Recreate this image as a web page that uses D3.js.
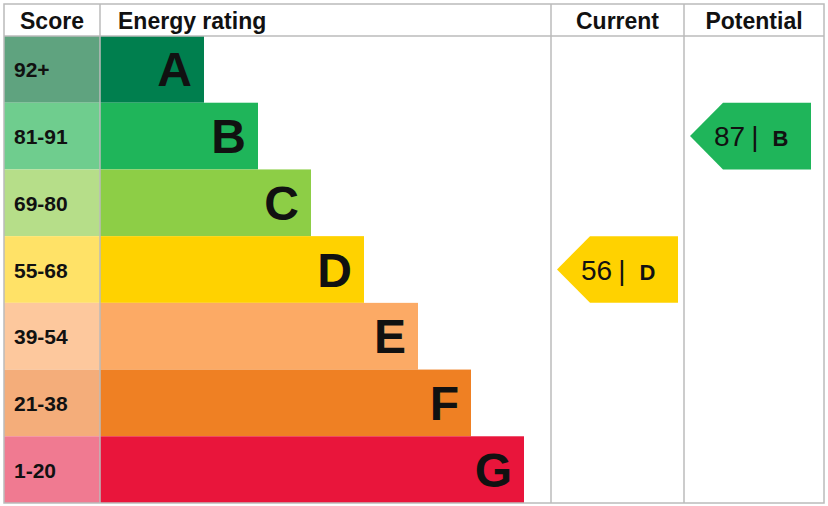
<!DOCTYPE html>
<html><head><meta charset="utf-8">
<script src="https://cdn.jsdelivr.net/npm/d3@7"></script>
<style>body{margin:0;background:#fff}text{font-family:"Liberation Sans",Arial,sans-serif}</style>
</head><body><svg id="c" width="828" height="506"></svg>
<script>
// rating bands
const bands = ["A", "B", "C", "D", "E", "F", "G"];
const scores = ["92+", "81-91", "69-80", "55-68", "39-54", "21-38", "1-20"];
const barEnds = [204, 258, 311, 364, 418, 471, 524];
const barColors = ["#007f4e", "#1fb55a", "#8dce46", "#ffd200", "#fcaa65", "#ef8023", "#e9153b"];
const scoreColors = ["#5fa37f", "#6fcd8e", "#b6de89", "#ffe267", "#fdc89d", "#f4ad7a", "#f07a91"];
const ratings = [{col: "Current", score: 56, band: "D"}, {col: "Potential", score: 87, band: "B"}];

const svg = d3.select("#c");
const L = 4, R = 824, T = 4, B = 503, headB = 36;
const scoreX = 100, curX = 551, potX = 684;

const y = d3.scaleBand().domain(bands).range([headB, B]);

// score cells
svg.selectAll("rect.score").data(bands).join("rect")
  .attr("x", L).attr("y", d => y(d)).attr("width", scoreX - L).attr("height", y.bandwidth())
  .attr("fill", (d, i) => scoreColors[i]);
svg.selectAll("text.score").data(bands).join("text")
  .attr("x", 14).attr("y", d => y(d) + y.bandwidth() / 2 + 8)
  .attr("font-size", 21).attr("font-weight", "bold").attr("fill", "#111")
  .text((d, i) => scores[i]);

// bars
svg.selectAll("rect.bar").data(bands).join("rect")
  .attr("x", scoreX).attr("y", d => y(d)).attr("width", (d, i) => barEnds[i] - scoreX).attr("height", y.bandwidth())
  .attr("fill", (d, i) => barColors[i]);
svg.selectAll("text.bar").data(bands).join("text")
  .attr("x", (d, i) => barEnds[i] - 12).attr("y", d => y(d) + y.bandwidth() / 2 + 17)
  .attr("text-anchor", "end").attr("font-size", 48).attr("font-weight", "bold").attr("fill", "#111")
  .text(d => d);

// grid
const g = svg.append("g").attr("stroke", "#bbb").attr("stroke-width", 1.5).attr("fill", "none");
g.append("rect").attr("x", L).attr("y", T).attr("width", R - L).attr("height", B - T);
g.append("line").attr("x1", L).attr("x2", R).attr("y1", headB).attr("y2", headB);
[scoreX, curX, potX].forEach(x => g.append("line").attr("x1", x).attr("x2", x).attr("y1", T).attr("y2", B));

// headers
const heads = [["Score", (L + scoreX) / 2, "middle"], ["Energy rating", 118, "start"], ["Current", (curX + potX) / 2, "middle"], ["Potential", (potX + R) / 2, "middle"]];
svg.selectAll("text.head").data(heads).join("text")
  .attr("x", d => d[1]).attr("y", 29).attr("text-anchor", d => d[2])
  .attr("font-size", 23).attr("font-weight", "bold").attr("fill", "#111").text(d => d[0]);

// arrows
const colLeft = {Current: curX, Potential: potX};
ratings.forEach(r => {
  const i = bands.indexOf(r.band);
  const x0 = colLeft[r.col] + 6, x1 = x0 + 121, y0 = y(r.band), h = y.bandwidth(), tip = 33;
  svg.append("path")
    .attr("d", `M${x0},${y0 + h / 2}L${x0 + tip},${y0}H${x1}V${y0 + h}H${x0 + tip}Z`)
    .attr("fill", barColors[i]);
  const t = svg.append("text").attr("x", x0 + 24).attr("y", y0 + h / 2 + 10).attr("fill", "#111");
  t.append("tspan").attr("font-size", 28).text(r.score);
  t.append("tspan").attr("font-size", 28).attr("dx", 6).text("|");
  t.append("tspan").attr("font-size", 22).attr("font-weight", "bold").attr("dx", 14).text(r.band);
});
</script></body></html>
